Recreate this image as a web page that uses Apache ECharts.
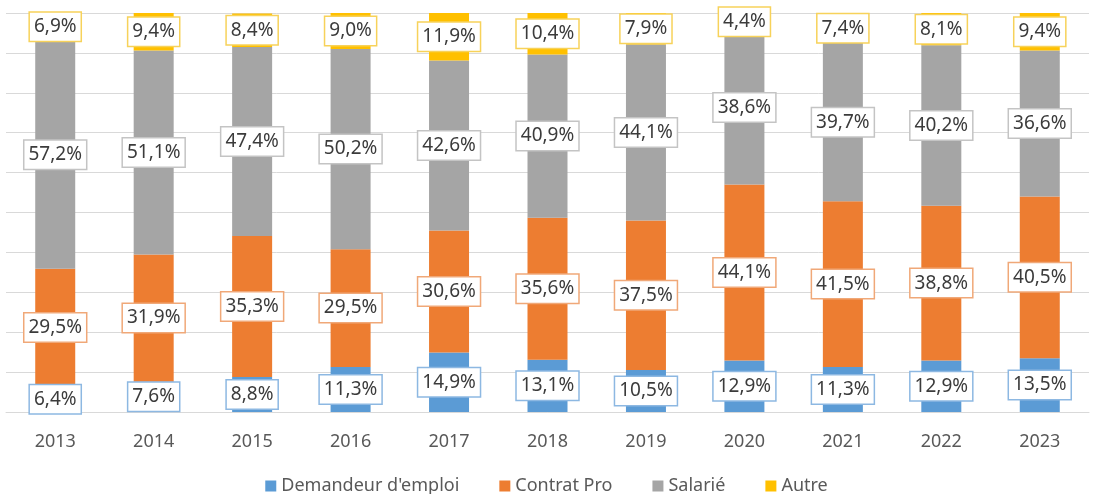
<!DOCTYPE html>
<html>
<head>
<meta charset="utf-8">
<script src="https://cdn.jsdelivr.net/npm/echarts@6/dist/echarts.min.js"></script>
<style>
	html, body { margin: 0; padding: 0; background: #fff; }
	#chart { width: 1093px; height: 494px; }
</style>
</head>
<body>
<div id="chart"></div>
<script>
// années
const years = ['2013', '2014', '2015', '2016', '2017', '2018', '2019', '2020', '2021', '2022', '2023']

// parts en % par statut
const demandeur = [6.4, 7.6, 8.8, 11.3, 14.9, 13.1, 10.5, 12.9, 11.3, 12.9, 13.5]
const contratPro = [29.5, 31.9, 35.3, 29.5, 30.6, 35.6, 37.5, 44.1, 41.5, 38.8, 40.5]
const salarie = [57.2, 51.1, 47.4, 50.2, 42.6, 40.9, 44.1, 38.6, 39.7, 40.2, 36.6]
const autre = [6.9, 9.4, 8.4, 9.0, 11.9, 10.4, 7.9, 4.4, 7.4, 8.1, 9.4]

const seriesNames = ["Demandeur d'emploi", 'Contrat Pro', 'Salarié', 'Autre']

const fontFamily = '"Noto Sans", "DejaVu Sans", sans-serif'

function makeSeries(name, data, color, borderColor) {
	return {
		name: name,
		type: 'bar',
		stack: 'total',
		barWidth: 40,
		data: data,
		itemStyle: { color: color },
		label: {
			show: true,
			position: 'inside',
			formatter: (p) => p.value.toFixed(1).replace('.', ',') + '%',
			color: '#3b3b3b',
			fontSize: 19,
			fontFamily: fontFamily,
			backgroundColor: '#fff',
			borderColor: borderColor,
			borderWidth: 1.5,
			padding: [5, 4, 4, 4],
		},
	}
}

const option = {
	animation: false,
	textStyle: { fontFamily: fontFamily },
	grid: {
		left: 6,
		right: 4,
		top: 13,
		bottom: 82,
	},
	legend: {
		top: 472,
		left: 'center',
		icon: 'rect',
		itemWidth: 11,
		itemHeight: 11,
		itemGap: 40,
		textStyle: { color: '#595959', fontSize: 18, fontFamily: fontFamily },
		data: seriesNames,
	},
	xAxis: {
		type: 'category',
		data: years,
		axisTick: { show: false },
		axisLine: { lineStyle: { color: '#d9d9d9' } },
		axisLabel: { color: '#595959', fontSize: 18, margin: 21, fontFamily: fontFamily },
	},
	yAxis: {
		type: 'value',
		min: 0,
		max: 100,
		interval: 10,
		axisLabel: { show: false },
		axisLine: { show: false },
		axisTick: { show: false },
		splitLine: { lineStyle: { color: '#d9d9d9' } },
	},
	series: [
		makeSeries(seriesNames[0], demandeur, '#5B9BD5', '#8DB8E2'),
		makeSeries(seriesNames[1], contratPro, '#ED7D31', '#F0A878'),
		makeSeries(seriesNames[2], salarie, '#A5A5A5', '#C4C4C4'),
		makeSeries(seriesNames[3], autre, '#FFC000', '#F7D25A'),
	],
}

const chart = echarts.init(document.getElementById('chart'))
chart.setOption(option)
</script>
</body>
</html>
